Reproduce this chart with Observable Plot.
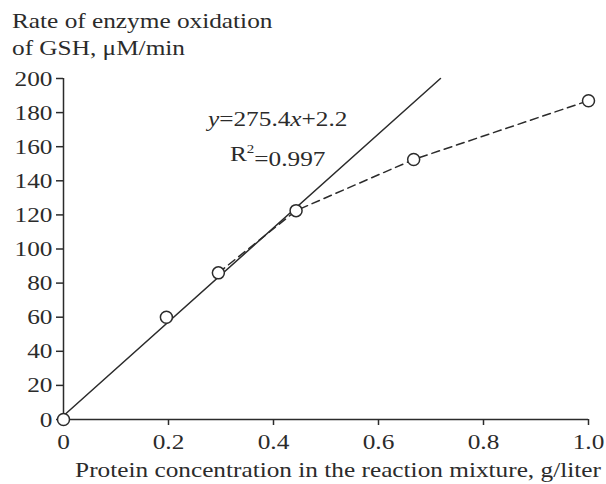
<!DOCTYPE html>
<html>
<head>
<meta charset="utf-8">
<script src="https://cdn.jsdelivr.net/npm/d3@7"></script>
<script src="https://cdn.jsdelivr.net/npm/@observablehq/plot@0.6"></script>
<style>
  html, body { margin: 0; padding: 0; background: #fff; }
  svg { display: block; }
</style>
</head>
<body>
<div id="chart"></div>
<script>
// Measured points
const concentration = [0, 0.196, 0.295, 0.443, 0.667, 1.0];
const rate = [0, 60, 86, 122.5, 152.5, 187];
// Dashed curve goes through points from index 2 onward
const dashedFrom = 2;
// Linear fit line endpoints (y = 275.4x + 2.2)
const fitX = [0, 0.718];
const fitY = [2.2, 200];
const xTicks = [0, 0.2, 0.4, 0.6, 0.8, 1.0];
const yTicks = [0, 20, 40, 60, 80, 100, 120, 140, 160, 180, 200];
const titleLines = ["Rate of enzyme oxidation", "of GSH, \u03bcM/min"];
const xLabel = "Protein concentration in the reaction mixture, g/liter";

const points = concentration.map((c, i) => ({x: c, y: rate[i]}));
const dashed = points.slice(dashedFrom);
const fit = fitX.map((x, i) => ({x, y: fitY[i]}));

const font = "'Liberation Serif', 'Times New Roman', serif";
const ink = "#2b2b2b";
const fmtX = d => d === 0 ? "0" : d3.format(".1f")(d);
const stretch = 1.15; // reference typeface is set wide

const plot = Plot.plot({
  width: 606,
  height: 484,
  marginLeft: 63,
  marginRight: 18,
  marginTop: 78,
  marginBottom: 65,
  style: {fontFamily: font, fontSize: "22px", color: ink, background: "#fff"},
  x: {domain: [0, 1]},
  y: {domain: [0, 200]},
  marks: [
    Plot.axisX({ticks: xTicks, tickFormat: fmtX, tickSize: 6, tickPadding: 8, label: null, stroke: ink, strokeWidth: 1.5}),
    Plot.axisY({ticks: yTicks, tickSize: 7, tickPadding: 4, label: null, stroke: ink, strokeWidth: 1.5}),
    Plot.ruleX([0], {stroke: ink, strokeWidth: 1.5}),
    Plot.ruleY([0], {stroke: ink, strokeWidth: 1.5}),
    Plot.line(fit, {x: "x", y: "y", stroke: ink, strokeWidth: 1.5}),
    Plot.line(dashed, {x: "x", y: "y", stroke: ink, strokeWidth: 1.5, strokeDasharray: "8,5"}),
    Plot.dot(points, {x: "x", y: "y", r: 6, fill: "white", stroke: ink, strokeWidth: 1.5}),
    Plot.text(["EQ"], {x: 0.408, y: 176.5, text: d => d, className: "eq", fontSize: 22, fill: ink, textAnchor: "middle", lineAnchor: "middle"}),
    Plot.text(["R2"], {x: 0.408, y: 156, text: d => d, className: "r2", fontSize: 22, fill: ink, textAnchor: "middle", lineAnchor: "middle"})
  ]
});

const svg = d3.select(plot);
// Equation with italic variables
const eq = svg.select(".eq text");
eq.text(null);
eq.append("tspan").attr("font-style", "italic").text("y");
eq.append("tspan").text("=275.4");
eq.append("tspan").attr("font-style", "italic").text("x");
eq.append("tspan").text("+2.2");
const r2 = svg.select(".r2 text");
r2.text(null);
r2.append("tspan").text("R");
r2.append("tspan").attr("font-size", 13).attr("dy", "-0.6em").text("2");
r2.append("tspan").attr("dy", "0.6em").text("=0.997");

// Title (y-axis label) lines
svg.append("text").attr("x", 12).attr("y", 28).attr("text-anchor", "start").attr("fill", ink).attr("font-size", 22).attr("font-family", font).text(titleLines[0]);
svg.append("text").attr("x", 12).attr("y", 55).attr("text-anchor", "start").attr("fill", ink).attr("font-size", 22).attr("font-family", font).text(titleLines[1]);
// X-axis label
svg.append("text").attr("x", 338).attr("y", 477).attr("text-anchor", "middle").attr("fill", ink).attr("font-size", 22).attr("font-family", font).text(xLabel);

document.getElementById("chart").appendChild(plot);

// Stretch glyphs horizontally about each text's own anchor point
svg.selectAll("text").each(function() {
  const el = d3.select(this);
  const x = +(el.attr("x") || 0);
  const t = el.attr("transform") || "";
  el.attr("transform", `${t} translate(${x},0) scale(${stretch},1) translate(${-x},0)`.trim());
});
</script>
</body>
</html>
